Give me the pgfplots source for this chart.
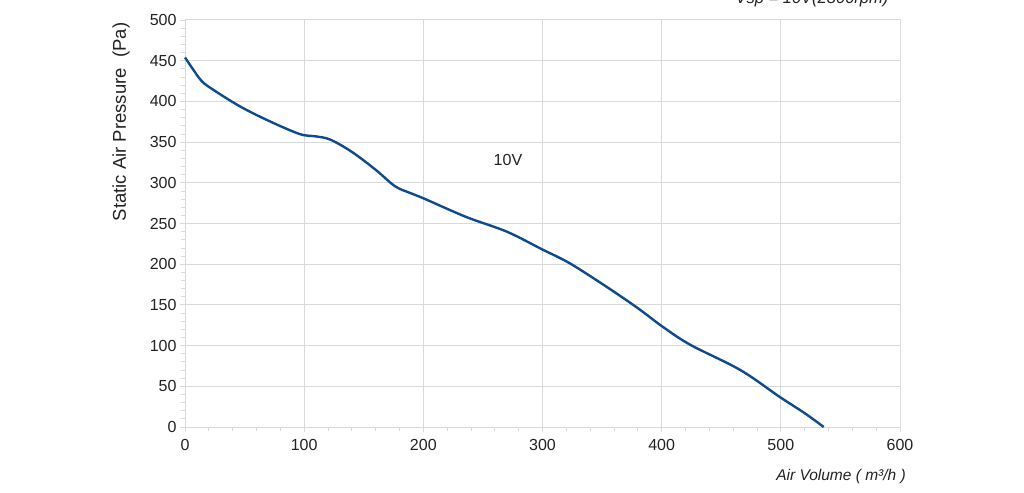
\documentclass[border=0pt]{standalone}
\usepackage{pgfplots}
\pgfplotsset{compat=1.18}
\usepackage{fontspec}
\setmainfont{Liberation Sans}
\definecolor{curve}{HTML}{0E4A8C}
\definecolor{gridc}{HTML}{D9D9D9}
\definecolor{txt}{HTML}{222222}
\begin{document}
\begin{tikzpicture}[x=1pt,y=1pt]
\begin{axis}[
    at={(0,0)}, anchor=south west,
    scale only axis, width=715pt, height=407pt,
    xmin=0, xmax=600, ymin=0, ymax=500,
    xtick={0,100,...,600}, ytick={0,50,...,500},
    minor x tick num=4, minor y tick num=4,
    grid=major, major grid style={gridc, line width=1pt},
    axis line style={gridc, line width=1pt},
    tick style={gridc, line width=0.8pt},
    tick align=outside,
    major tick length=5pt, minor tick length=4pt,
    axis x line*=bottom, axis y line*=left,
    tick label style={font=\fontsize{16}{18}\selectfont, text=txt},
    xticklabel style={yshift=-4pt},
    /pgf/number format/assume math mode=true,
    clip=false,
]
\addplot[curve, line width=2.4pt, smooth, tension=0.55] coordinates {
(0,454) (6,441) (14,425) (24,414) (46,394) (69,377) (96,360) (110,357) (122,353)
(140,338) (160,316) (176,296) (188,288) (200,281) (236,258) (270,240) (300,218)
(323,201) (354,172) (380,146) (401,123) (424,101) (466,70) (499,37)
(520,17) (536,0)
};
\draw[gridc, line width=1pt] (axis cs:0,500) -- (axis cs:600,500) -- (axis cs:600,0);
\node[font=\fontsize{16}{18}\selectfont, text=txt] at (axis cs:271,328) {10V};
\end{axis}
\node[rotate=90, font=\fontsize{18.5}{20}\selectfont, text=txt] at (-64pt,305pt) {Static Air Pressure\ \ (Pa)};
\node[font=\fontsize{15.5}{17}\selectfont\itshape, text=txt] at (656pt,-49pt) {Air Volume ( m³/h )};
\node[anchor=base, font=\fontsize{16.5}{18}\selectfont\itshape, text=txt] at (627pt,423pt) {Vsp = 10V(2800rpm)};
\pgfresetboundingbox
\useasboundingbox (-185pt,-65pt) rectangle (839pt,427pt);
\end{tikzpicture}
\end{document}
